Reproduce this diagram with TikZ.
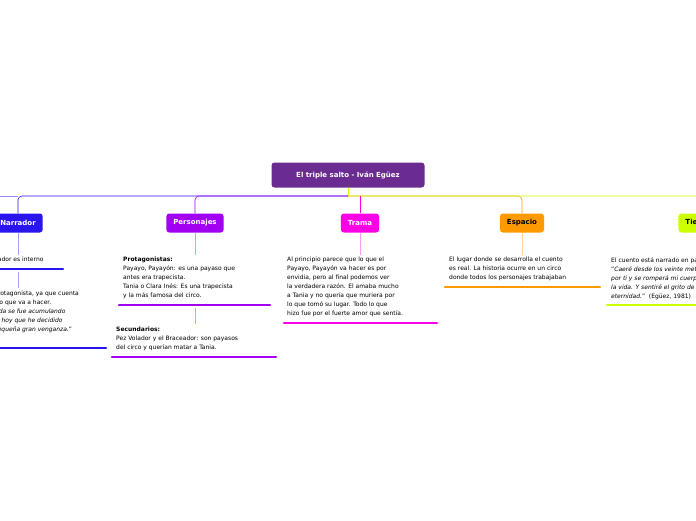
\documentclass[tikz,border=0pt]{standalone}
\usepackage{fontspec}
\setmainfont{DejaVu Sans}
\usetikzlibrary{positioning}
\definecolor{rootc}{HTML}{6A2C91}
\definecolor{narc}{HTML}{2A14F0}
\definecolor{perc}{HTML}{A100F2}
\definecolor{trac}{HTML}{FF00E6}
\definecolor{espc}{HTML}{FF9900}
\definecolor{tiec}{HTML}{CCFF00}
\begin{document}
\begin{tikzpicture}[x=1pt, y=-1pt,
    topic/.style = {rounded corners = 3pt, minimum height = 19pt, inner xsep = 7pt, font = \fontsize{7}{8}\selectfont\bfseries},
    note/.style = {anchor = north west, align = left, inner sep = 0pt, font = \fontsize{6}{9}\selectfont},
    line/.style = {line width = 0.6pt},
    bar/.style = {line width = 2.5pt, line cap = round}]
  \useasboundingbox (0,0) rectangle (696,520);
  \clip (0,0) rectangle (696,520);
  \node[topic, fill = rootc, text = white, minimum height = 25pt, minimum width = 153pt] (root) at (348,175) {El triple salto - Iván Egüez};
  \coordinate (hub) at (348,196);
  \node[topic, fill = narc, text = white] (narr) at (18,223) {Narrador};
  \node[topic, fill = perc, text = white] (pers) at (195,223) {Personajes};
  \node[topic, fill = trac, text = white] (tram) at (360,223) {Trama};
  \node[topic, fill = espc] (espa) at (522,223) {Espacio};
  \node[topic, fill = tiec] (tiem) at (700,223) {Tiempo};
  % branches
  \draw[line, tiec] (root.south) -- (hub);
  \draw[line, narc, rounded corners = 4pt] (hub) -| (narr.north);
  \draw[line, perc, rounded corners = 4pt] (hub) -| (pers.north);
  \draw[line, espc, rounded corners = 4pt] (hub) -| (espa.north);
  \draw[line, tiec, rounded corners = 4pt] (hub) -| (tiem.north);
  \draw[line, narc!50] (narr.north |- hub) -- (0,196);
  \draw[line, tiec] (tiem.north |- hub) -- (696,196);
  \draw[line, trac] (tram.north |- hub) -- (tram.north);
  % notes
  \node[note] (n1) at (-22,257) {El narrador es interno};
  \node[note] (n2) at (-50,291) {El narrador es protagonista, ya que cuenta\\lo que piensa y lo que va a hacer.\\\textit{"Mi odio de volada se fue acumulando}\\\textit{hasta hoy, hasta hoy que he decidido}\\\textit{vengarme, mi pequeña gran venganza.}"};
  \node[note] (p1) at (123,257) {\textbf{Protagonistas:}\\Payayo, Payayón: es una payaso que\\antes era trapecista.\\Tania o Clara Inés: Es una trapecista\\y la más famosa del circo.};
  \node[note] (p2) at (116,327) {\textbf{Secundarios:}\\Pez Volador y el Braceador: son payasos\\del circo y querían matar a Tania.};
  \node[note] (t1) at (287,257) {Al principio parece que lo que el\\Payayo, Payayón va hacer es por\\envidia, pero al final podemos ver\\la verdadera razón. El amaba mucho\\a Tania y no quería que muriera por\\lo que tomó su lugar. Todo lo que\\hizo fue por el fuerte amor que sentía.};
  \node[note] (e1) at (449,257) {El lugar donde se desarrolla el cuento\\es real. La historia ocurre en un circo\\donde todos los personajes trabajaban};
  \node[note] (i1) at (611,257) {El cuento está narrado en pasado.\\"\textit{Caeré desde los veinte metros}\\\textit{por ti y se romperá mi cuerpo y}\\\textit{la vida. Y sentiré el grito de la}\\\textit{eternidad.}"\ \ (Egüez, 1981)};
  % underlines
  \draw[bar, narc] (-30,269) -- (63,269);
  \draw[bar, narc] (-60,348) -- (106,348);
  \draw[bar, perc] (119,305) -- (270,305);
  \draw[bar, perc] (112,357) -- (276,357);
  \draw[bar, trac] (284,323) -- (437,323);
  \draw[bar, espc] (445,287) -- (600,287);
  \draw[bar, tiec] (607,305) -- (760,305);
  % stems
  \draw[line, narc!40] (narr.south) -- (18,255);
  \draw[line, narc!40] (18,272) -- (18,288);
  \draw[line, perc!40] (pers.south) -- (195,255);
  \draw[line, perc!40] (195,308) -- (195,324);
  \draw[line, trac!40] (tram.south) -- (360,255);
  \draw[line, espc!40] (espa.south) -- (522,255);
\end{tikzpicture}
\end{document}
